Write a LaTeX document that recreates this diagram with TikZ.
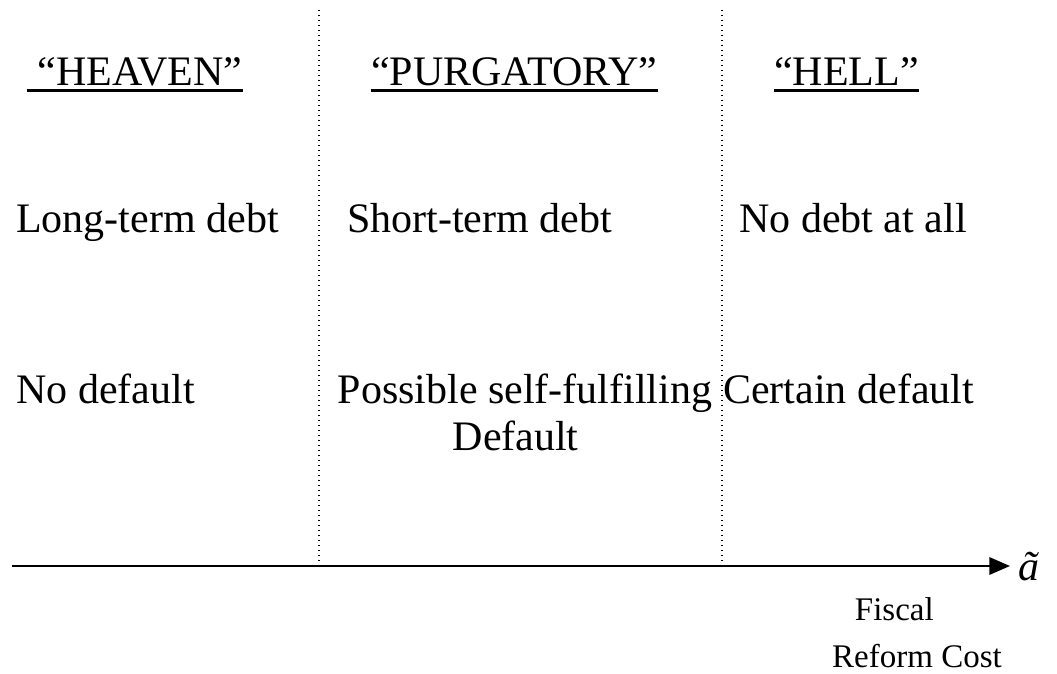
\documentclass[tikz,border=0pt]{standalone}
\usepackage{fontspec}
\setmainfont{Liberation Serif}
\usetikzlibrary{arrows.meta}

\begin{document}
\begin{tikzpicture}[
  x=0.75pt, y=-0.75pt,
  txt/.style={inner sep=0pt, anchor=base west, font=\fontsize{31.5}{35}\selectfont},
  head/.style={txt},
  small/.style={inner sep=0pt, align=center, font=\fontsize{24.75}{35}\selectfont},
  uline/.style={line width=2.25pt},
  sep/.style={line width=0.9pt, dash pattern=on 0.9pt off 2.85pt},
  axis/.style={-{Triangle[length=15.5pt, width=13pt]}, line width=1.75pt}]
\useasboundingbox (0,0) rectangle (1057,674);
% region headings
\node[head] (heaven) at (27,85) {\ “HEAVEN”};
\node[head] (purg) at (371,85) {“PURGATORY”};
\node[head] (hell) at (774,85) {“HELL”};
\foreach \h in {heaven,purg,hell}
  \draw[uline] ([yshift=-4pt]\h.base west) -- ([yshift=-4pt]\h.base east);
% debt maturity
\node[txt] (long) at (16,232) {Long-term debt};
\node[txt] (short) at (347,232) {Short-term debt};
\node[txt] (nodebt) at (739,232) {No debt at all};
% default
\node[txt] (nodef) at (16,403) {No default};
\node[txt, anchor=base, align=center] (selff) at (525,450) {Possible self-fulfilling\\Default\hspace*{14pt}};
\node[txt] (certain) at (723,403) {Certain default};
% axis
\coordinate (o) at (12,566);
\coordinate (e) at (1010,566);
\coordinate (t1) at (319,10);
\coordinate (t2) at (722,10);
\draw[sep] (t1) -- (t1 |- o);
\draw[sep] (t2) -- (t2 |- o);
\draw[axis] (o) -- (e);
\node[txt] (atil) at (1018,580) {\itshape ã};
\node[small, anchor=base] (cost) at (917,667) {Fiscal\hspace*{34pt}\\Reform Cost};
\end{tikzpicture}
\end{document}
